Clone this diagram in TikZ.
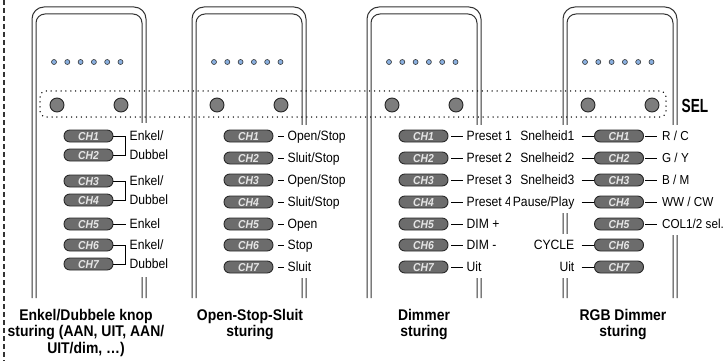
\documentclass[tikz,border=0pt]{standalone}
\usepackage{fontspec}
\setmainfont{Liberation Sans}[FakeStretch=0.9]
\newfontfamily\selfont{Liberation Sans}[FakeStretch=0.72]
\usepackage{tikz}
\usetikzlibrary{positioning}
\definecolor{wall}{HTML}{333333}
\definecolor{ledblue}{HTML}{8AB0E0}
\definecolor{knob}{HTML}{7D7D7D}
\definecolor{chfill}{HTML}{6C6C6C}
\definecolor{chtext}{HTML}{E6E6E6}

\begin{document}
\begin{tikzpicture}[x=1pt,y=-1pt,
    wallline/.style={draw=wall,line width=1pt},
    lead/.style={line width=1pt},
    ledot/.style={circle,draw=wall,fill=ledblue,line width=0.6pt,minimum size=5pt,inner sep=0pt},
    knobbtn/.style={circle,draw=black!85,fill=knob,line width=0.9pt,minimum size=14pt,inner sep=0pt},
    chbtn/.style={rectangle,rounded corners=5.8pt,draw=black!85,fill=chfill,line width=0.9pt,
      minimum width=49pt,minimum height=12pt,inner sep=0pt,text=chtext,text height=8.2pt,text depth=0pt,
      font=\fontsize{11.5}{11.5}\selectfont\bfseries\itshape},
    functxt/.style={fill=white,inner xsep=3pt,inner ysep=0pt,minimum height=22pt,
      text height=9.7pt,text depth=0pt,font=\fontsize{13.5}{13.5}\selectfont},
    captxt/.style={anchor=north,align=center,inner sep=0pt,font=\fontsize{15.5}{16.5}\selectfont\bfseries}]
  \useasboundingbox (0,0) rectangle (726,361);
  % left cut line
  \draw[wall,line width=1.1pt,dash pattern=on 5pt off 3pt] (4,0) -- (4,361);
  % the four modules
  \foreach \dx [count=\k] in {32,192,367,563} {
    \draw[wallline,rounded corners=12pt] (\dx,298) -- (\dx,7) -- (\dx+114,7) -- (\dx+114,298);
    \draw[wallline,rounded corners=9pt] (\dx+4,298) -- (\dx+4,14) -- (\dx+110,14) -- (\dx+110,298);
    \foreach \i in {0,...,5}
      \node[ledot] (led\k\i) at (\dx+22+13.3*\i,62) {};
    \node[knobbtn] (kl\k) at (\dx+25,105) {};
    \node[knobbtn] (kr\k) at (\dx+89,105) {};
  }
  % SEL frame
  \draw[line width=1.5pt,line cap=round,dash pattern=on 0pt off 4.9pt,rounded corners=6pt] (40,91) rectangle (666,117);
  \node[font=\selfont\fontsize{19}{19}\selectfont\bfseries,inner sep=0pt] (sel) at (695,106) {SEL};

  % Enkel/Dubbel
  \foreach \y [count=\n] in {136,155,181,200,224,245,264}
    \node[chbtn] (a\n) at (88.5,\y) {CH\n};
  \node[functxt,minimum height=26pt,right=13pt of a1] (la1) {Enkel/};
  \node[functxt,minimum height=26pt,right=13pt of a2] (la2) {Dubbel};
  \node[functxt,minimum height=26pt,right=13pt of a3] (la3) {Enkel/};
  \node[functxt,minimum height=26pt,right=13pt of a4] (la4) {Dubbel};
  \node[functxt,minimum height=26pt,right=13pt of a5] (la5) {Enkel};
  \node[functxt,minimum height=26pt,right=13pt of a6] (la6) {Enkel/};
  \node[functxt,minimum height=26pt,right=13pt of a7] (la7) {Dubbel};
  \draw[lead] (a1.east) -- ++(12,0) |- (a2.east);
  \draw[lead] (a3.east) -- ++(12,0) |- (a4.east);
  \draw[lead] (a5) -- (la5);
  \draw[lead] (a6.east) -- ++(12,0) |- (a7.east);

  % Open-Stop-Sluit
  \foreach \y [count=\n] in {136,158,180,202,224,245,267}
    \node[chbtn] (b\n) at (248.5,\y) {CH\n};
  \foreach \t [count=\n] in {Open/Stop,Sluit/Stop,Open/Stop,Sluit/Stop,Open,Stop,Sluit} {
    \node[functxt,right=11pt of b\n] (lb\n) {\t};
    \draw[lead,shorten <=5pt] (b\n) -- (lb\n);
  }

  % Dimmer
  \foreach \y [count=\n] in {136,158,180,202,224,245,267}
    \node[chbtn] (c\n) at (423.5,\y) {CH\n};
  \foreach \t [count=\n] in {Preset 1,Preset 2,Preset 3,Preset 4,DIM +,DIM -,Uit} {
    \node[functxt,right=15pt of c\n] (lc\n) {\t};
    \draw[lead,shorten <=3pt] (c\n) -- (lc\n);
  }

  % RGB Dimmer
  \foreach \y [count=\n] in {136,158,180,202,224,245,267}
    \node[chbtn] (d\n) at (619,\y) {CH\n};
  \foreach \t [count=\n] in {R / C,G / Y,B / M,WW / CW,COL1/2 sel.} {
    \node[functxt,font=\fontsize{13}{13}\selectfont,right=15pt of d\n] (rd\n) {\t};
    \draw[lead,shorten <=1.5pt,shorten >=2pt] (d\n) -- (rd\n);
  }
  \node[functxt,left=16.5pt of d1] (ld1) {Snelheid1};
  \node[functxt,left=16.5pt of d2] (ld2) {Snelheid2};
  \node[functxt,left=16.5pt of d3] (ld3) {Snelheid3};
  \node[functxt,left=16.5pt of d4] (ld4) {Pause/Play};
  \node[functxt,left=16.5pt of d6] (ld6) {CYCLE};
  \node[functxt,left=16.5pt of d7] (ld7) {Uit};
  \foreach \n in {1,2,3,4,6,7}
    \draw[lead,shorten <=4pt] (ld\n) -- (d\n);

  % captions
  \node[captxt] (cap1) at (86,309) {Enkel/Dubbele knop\\sturing (AAN, UIT, AAN/\\UIT/dim, …)};
  \node[captxt] (cap2) at (250,309) {Open-Stop-Sluit\\sturing};
  \node[captxt] (cap3) at (424,309) {Dimmer\\sturing};
  \node[captxt] (cap4) at (623,309) {RGB Dimmer\\sturing};
\end{tikzpicture}
\end{document}
